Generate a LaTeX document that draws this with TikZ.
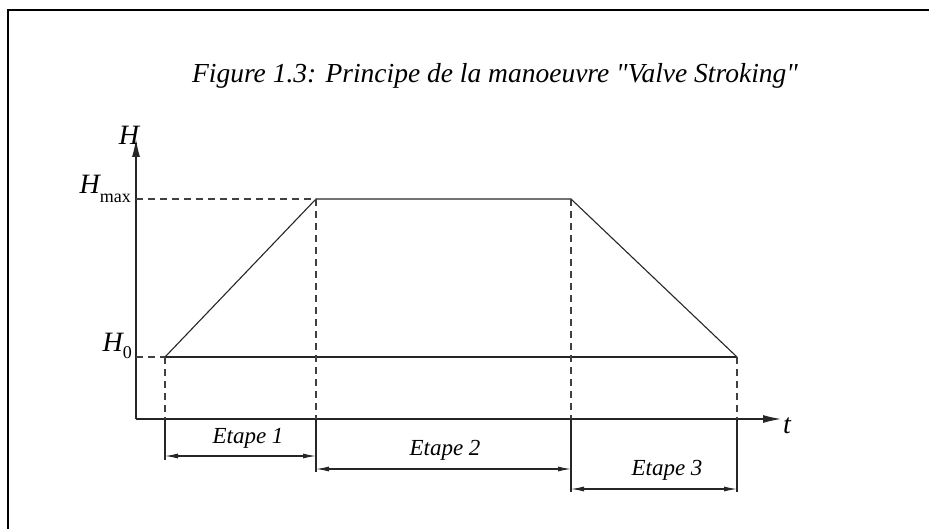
\documentclass[tikz,border=0pt]{standalone}
\usepackage{fontspec}
\setmainfont{Liberation Serif}
\newfontfamily\plainserif{Liberation Serif}
\usetikzlibrary{arrows.meta}
\tikzset{
  ln/.style={draw=black!85, line width=1.1pt},
  dsh/.style={draw=black!75, line width=1.1pt, dash pattern=on 7pt off 5pt},
  axisarrow/.style={ln, -{Latex[length=18pt,width=8pt]}},
  dimarrow/.style={ln, {Latex[length=13pt,width=5pt]}-{Latex[length=13pt,width=5pt]}},
  lbl/.style={inner sep=0pt, font=\fontsize{23}{26}\selectfont\itshape},
  hlbl/.style={inner sep=0pt, font=\fontsize{28}{32}\selectfont},
}
\begin{document}
\begin{tikzpicture}[x=1pt,y=-1pt]
\useasboundingbox (0,0) rectangle (929,529);
% frame
\draw[line width=1.2pt] (8,529) -- (8,10) -- (929,10);
% title
\node[inner sep=0pt, font=\plainserif\fontsize{27.5}{32}\selectfont\itshape, anchor=base] (title) at (495,83) {Figure 1.3: Principe de la manoeuvre "Valve Stroking"};
% key points
\coordinate (O) at (136,419);
\coordinate (Ytop) at (136,139);
\coordinate (Xend) at (781,419);
\coordinate (A) at (165,357);
\coordinate (B) at (316,199);
\coordinate (C) at (571,199);
\coordinate (D) at (737,357);
\coordinate (Ay) at (136,357);
\coordinate (By) at (136,199);
\coordinate (Ax) at (165,419);
\coordinate (Bx) at (316,419);
\coordinate (Cx) at (571,419);
\coordinate (Dx) at (737,419);
\coordinate (Ae) at (165,460);
\coordinate (Be) at (316,472);
\coordinate (Ce) at (571,492);
\coordinate (De) at (737,492);
% axes
\draw[axisarrow] (O) -- (Ytop);
\draw[axisarrow] (O) -- (Xend);
% curve
\draw[ln, line join=miter] (A) -- (B) -- (C) -- (D);
\draw[ln] (A) -- (D);
% dashed guides
\draw[dsh] (Ay) -- (A);
\draw[dsh] (By) -- (B);
\draw[dsh] (A) -- (Ax);
\draw[dsh] (B) -- (Bx);
\draw[dsh] (C) -- (Cx);
\draw[dsh] (D) -- (Dx);
% extension lines
\draw[ln] (Ax) -- (Ae);
\draw[ln] (Bx) -- (Be);
\draw[ln] (Cx) -- (Ce);
\draw[ln] (Dx) -- (De);
% dimension arrows
\coordinate (d1a) at (165,456); \coordinate (d1b) at (316,456);
\coordinate (d2a) at (316,469); \coordinate (d2b) at (571,469);
\coordinate (d3a) at (571,489); \coordinate (d3b) at (737,489);
\draw[dimarrow] (d1a) -- (d1b);
\draw[dimarrow] (d2a) -- (d2b);
\draw[dimarrow] (d3a) -- (d3b);
\node[lbl] (e1) at (248,438) {Etape 1};
\node[lbl] (e2) at (445,450) {Etape 2};
\node[lbl] (e3) at (667,470) {Etape 3};
% axis labels
\node[hlbl, anchor=base] (Hl) at (129,145) {\itshape H};
\node[hlbl, anchor=base east] (Hmax) at (131,194) {\itshape H\fontsize{18}{20}\selectfont\upshape\raisebox{-9pt}{max}};
\node[hlbl, anchor=base east] (H0) at (132,352) {\itshape H\fontsize{18}{20}\selectfont\upshape\raisebox{-6pt}{0}};
\node[hlbl, anchor=base west] (tl) at (783,433) {\itshape t};
\end{tikzpicture}
\end{document}
